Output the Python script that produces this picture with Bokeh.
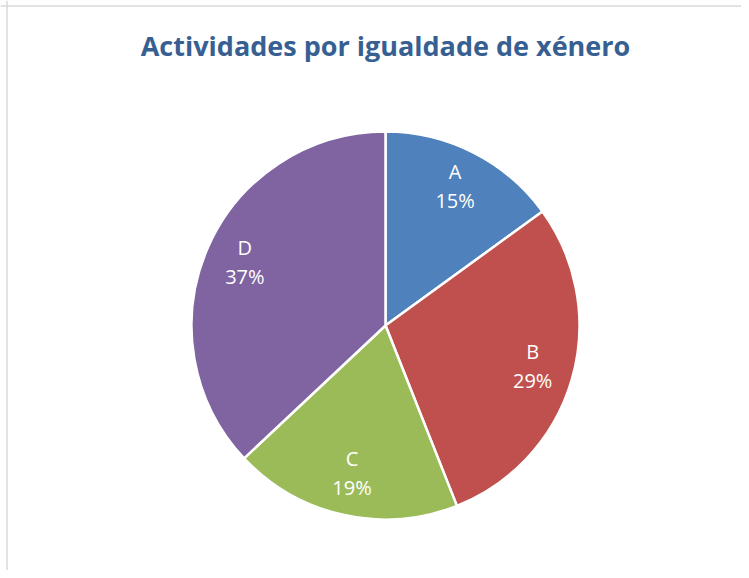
import math
from bokeh.plotting import figure
from bokeh.models import ColumnDataSource, Range1d, Label, Span
from bokeh.core.properties import value
from bokeh.embed import file_html
from bokeh.resources import INLINE

categories = ["A", "B", "C", "D"]
values = [15, 29, 19, 37]
colors = ["#4F81BD", "#C0504D", "#9BBB59", "#8064A2"]
title_text = "Actividades por igualdade de xénero"

W, H = 741, 570
cx, cy = 385, 325  # pie centre in figure pixels (from top-left)
R = 194

total = sum(values)
starts, ends, lx, ly, pct = [], [], [], [], []
cum = 0.0
for v in values:
    a0 = math.pi / 2 - 2 * math.pi * cum / total
    a1 = math.pi / 2 - 2 * math.pi * (cum + v) / total
    starts.append(a0)
    ends.append(a1)
    mid = (a0 + a1) / 2
    lx.append(0.79 * R * math.cos(mid))
    ly.append(0.79 * R * math.sin(mid))
    pct.append(f"{round(100 * v / total)}%")
    cum += v

src = ColumnDataSource(dict(cat=categories, val=values, color=colors,
                            start=starts, end=ends, lx=lx, ly=ly, pct=pct))

p = figure(width=W, height=H, output_backend="svg", toolbar_location=None,
           x_range=Range1d(-cx, W - cx), y_range=Range1d(-(H - cy), cy),
           min_border=0, match_aspect=False)
p.axis.visible = False
p.grid.visible = False
p.outline_line_color = None
p.background_fill_color = "white"
p.border_fill_color = "white"

p.wedge(x=0, y=0, radius=R, start_angle="start", end_angle="end",
        direction="clock", fill_color="color", line_color="white",
        line_width=2.5, source=src)

p.text(x="lx", y="ly", text="cat", source=src, text_color="white",
       text_font=value("Open Sans"), text_font_size="20px", text_align="center",
       text_baseline="alphabetic", y_offset=-17)
p.text(x="lx", y="ly", text="pct", source=src, text_color="white",
       text_font=value("Open Sans"), text_font_size="20px", text_align="center",
       text_baseline="alphabetic", y_offset=12)

p.add_layout(Label(x=cx, y=H - 45, x_units="screen", y_units="screen",
                   text=title_text, text_align="center", text_baseline="alphabetic",
                   text_font="Open Sans", text_font_style="bold",
                   text_font_size="27px", text_color="#376092"))

p.add_layout(Span(location=-cx + 6.5, dimension="height",
                  line_color="#d9d9d9", line_width=1.5))
p.add_layout(Span(location=cy - 5.5, dimension="width",
                  line_color="#d9d9d9", line_width=1.5))

open("out.html", "w").write(file_html(p, INLINE))
